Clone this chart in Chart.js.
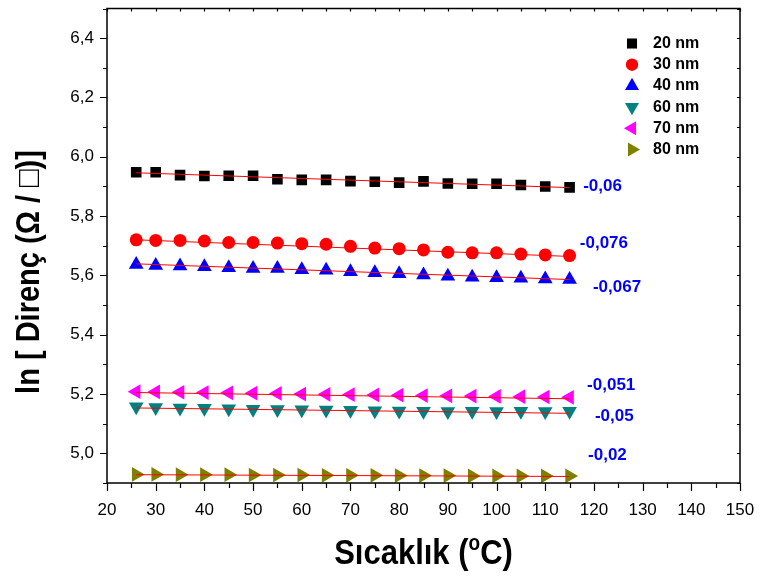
<!DOCTYPE html>
<html>
<head>
<meta charset="utf-8">
<script src="https://cdn.jsdelivr.net/npm/chart.js@4/dist/chart.umd.min.js"></script>
<style>
  html, body { margin: 0; padding: 0; background: #fff; }
  canvas { display: block; }
</style>
</head>
<body>
<canvas id="chart" width="760" height="577"></canvas>
<script>
// temperatures (°C)
const temps = [26, 30, 35, 40, 45, 50, 55, 60, 65, 70, 75, 80, 85, 90, 95, 100, 105, 110, 115];

// ln(resistance) per film thickness
const r20 = [5.948, 5.948, 5.938, 5.935, 5.936, 5.936, 5.924, 5.922, 5.922, 5.918, 5.916, 5.913, 5.917, 5.910, 5.909, 5.909, 5.905, 5.900, 5.897];
const r30 = [5.720, 5.718, 5.718, 5.716, 5.711, 5.711, 5.709, 5.707, 5.705, 5.698, 5.692, 5.690, 5.686, 5.678, 5.676, 5.676, 5.672, 5.669, 5.667];
const r40 = [5.637, 5.633, 5.632, 5.629, 5.626, 5.623, 5.623, 5.619, 5.617, 5.612, 5.609, 5.606, 5.601, 5.597, 5.594, 5.592, 5.590, 5.588, 5.586];
const r60 = [5.157, 5.155, 5.153, 5.152, 5.150, 5.149, 5.148, 5.147, 5.146, 5.145, 5.144, 5.143, 5.142, 5.141, 5.142, 5.141, 5.142, 5.141, 5.142];
const r70 = [5.208, 5.207, 5.206, 5.205, 5.204, 5.203, 5.202, 5.200, 5.199, 5.198, 5.197, 5.196, 5.195, 5.194, 5.193, 5.192, 5.191, 5.190, 5.189];
const r80 = [4.929, 4.929, 4.928, 4.928, 4.928, 4.927, 4.927, 4.927, 4.926, 4.926, 4.926, 4.925, 4.925, 4.925, 4.924, 4.924, 4.924, 4.924, 4.924];

// linear fit end values (at 26 and 115 °C)
const fitStart = [5.946, 5.720, 5.639, 5.153, 5.205, 4.928];
const fitEnd   = [5.896, 5.664, 5.586, 5.135, 5.184, 4.922];

const seriesNames = ['20 nm', '30 nm', '40 nm', '60 nm', '70 nm', '80 nm'];
const slopeLabels = ['-0,06', '-0,076', '-0,067', '-0,05', '-0,051', '-0,02'];
const xTitle = ['Sıcaklık (', 'o', 'C)'];
const yTitle = 'ln [ Direnç (Ω / □)]';

// styling
const FONT = 'Arial, "Liberation Sans", sans-serif';
const colors = ['#000000', '#ff0000', '#0000ff', '#008080', '#ff00ff', '#808000'];
const styles = [
  { pointStyle: 'rect', rotation: 0, radius: 7.5 },
  { pointStyle: 'circle', rotation: 0, radius: 6.5 },
  { pointStyle: 'triangle', rotation: 0, radius: 8.5 },
  { pointStyle: 'triangle', rotation: 180, radius: 8.5 },
  { pointStyle: 'triangle', rotation: -90, radius: 8.5 },
  { pointStyle: 'triangle', rotation: 90, radius: 8.5 }
];
// where the slope texts sit (data units, left edge / middle)
const slopePos = [[117.8, 5.901], [117.1, 5.707], [119.8, 5.559], [120.2, 5.124], [118.6, 5.228], [118.8, 4.994]];

const allSeries = [r20, r30, r40, r60, r70, r80];

const datasets = [];
allSeries.forEach((vals, i) => {
  datasets.push({
    type: 'line',
    label: 'fit ' + seriesNames[i],
    data: [{ x: temps[0], y: fitStart[i] }, { x: temps[temps.length - 1], y: fitEnd[i] }],
    borderColor: '#ff0000',
    borderWidth: 1,
    pointRadius: 0,
    fill: false,
    order: 0
  });
});
allSeries.forEach((vals, i) => {
  datasets.push({
    type: 'scatter',
    label: seriesNames[i],
    data: temps.map((t, k) => ({ x: t, y: vals[k] })),
    backgroundColor: colors[i],
    borderColor: colors[i],
    borderWidth: 0,
    pointStyle: styles[i].pointStyle,
    rotation: styles[i].rotation,
    pointRadius: styles[i].radius,
    pointHoverRadius: styles[i].radius,
    order: 1
  });
});

function drawMarker(ctx, st, color, x, y) {
  ctx.save();
  ctx.fillStyle = color;
  ctx.strokeStyle = color;
  if (Chart.helpers && Chart.helpers.drawPoint) {
    Chart.helpers.drawPoint(ctx, { pointStyle: st.pointStyle, rotation: st.rotation, radius: st.radius, borderWidth: 0 }, x, y);
  }
  ctx.restore();
}

const framePlugin = {
  id: 'frame',
  afterDraw(c) {
    const ctx = c.ctx;
    const a = c.chartArea;
    const xs = c.scales.x, ys = c.scales.y;
    ctx.save();
    ctx.strokeStyle = '#000';
    ctx.lineWidth = 1.5;
    ctx.strokeRect(a.left, a.top, a.right - a.left, a.bottom - a.top);
    ctx.lineWidth = 1.2;
    ctx.beginPath();
    for (let v = 20; v <= 150; v += 5) {
      const px = Math.round(xs.getPixelForValue(v)) + 0.5;
      const major = v % 10 === 0;
      ctx.moveTo(px, a.bottom);
      ctx.lineTo(px, a.bottom + (major ? 8 : 5));
      ctx.moveTo(px, a.top);
      ctx.lineTo(px, a.top + 3);
    }
    for (let k = 49; k <= 65; k++) {
      const py = Math.round(ys.getPixelForValue(k / 10)) + 0.5;
      const major = k % 2 === 0;
      ctx.moveTo(a.left, py);
      ctx.lineTo(a.left - (major ? 7 : 4), py);
      ctx.moveTo(a.right, py);
      ctx.lineTo(a.right - 3, py);
    }
    ctx.stroke();

    // legend
    ctx.font = 'bold 16px ' + FONT;
    ctx.textBaseline = 'middle';
    ctx.fillStyle = '#000';
    seriesNames.forEach((name, i) => {
      const y = a.top + 35 + i * 21.2;
      drawMarker(ctx, { ...styles[i], radius: styles[i].radius * 0.95 }, colors[i], a.right - 108, y);
      ctx.fillStyle = '#000';
      ctx.fillText(name, a.right - 87, y);
    });

    // slope labels
    ctx.font = 'bold 17px ' + FONT;
    ctx.fillStyle = '#0000ff';
    ctx.textAlign = 'left';
    slopeLabels.forEach((t, i) => {
      ctx.fillText(t, xs.getPixelForValue(slopePos[i][0]), ys.getPixelForValue(slopePos[i][1]));
    });

    // axis titles (slightly tall glyphs as in the original)
    ctx.fillStyle = '#000';
    ctx.textBaseline = 'alphabetic';
    ctx.save();
    ctx.translate((a.left + a.right) / 2, 564);
    ctx.scale(1, 1.16);
    ctx.font = 'bold 31px ' + FONT;
    const w0 = ctx.measureText(xTitle[0]).width;
    ctx.font = 'bold 19px ' + FONT;
    const w1 = ctx.measureText(xTitle[1]).width;
    ctx.font = 'bold 31px ' + FONT;
    const w2 = ctx.measureText(xTitle[2]).width;
    let x0 = -(w0 + w1 + w2) / 2;
    ctx.fillText(xTitle[0], x0, 0);
    ctx.font = 'bold 19px ' + FONT;
    ctx.fillText(xTitle[1], x0 + w0, -12);
    ctx.font = 'bold 31px ' + FONT;
    ctx.fillText(xTitle[2], x0 + w0 + w1, 0);
    ctx.restore();

    ctx.save();
    ctx.translate(39, 272);
    ctx.rotate(-Math.PI / 2);
    ctx.scale(1, 1.15);
    ctx.font = 'bold 29px ' + FONT;
    ctx.textAlign = 'center';
    ctx.fillText(yTitle, 0, 0);
    ctx.restore();

    ctx.restore();
  }
};

new Chart(document.getElementById('chart').getContext('2d'), {
  type: 'scatter',
  data: { datasets: datasets },
  options: {
    responsive: false,
    animation: false,
    devicePixelRatio: 1,
    layout: { padding: { top: 5, right: 20, left: 0, bottom: 0 } },
    plugins: {
      legend: { display: false },
      tooltip: { enabled: false }
    },
    scales: {
      x: {
        type: 'linear',
        min: 20,
        max: 150,
        afterFit: s => { s.height = 94; s.paddingLeft = 0; s.paddingRight = 0; },
        border: { display: false },
        grid: { display: false, drawTicks: false },
        ticks: {
          stepSize: 10,
          padding: 17,
          color: '#000',
          font: { family: FONT, size: 17 }
        },
        title: { display: false, text: xTitle.join('') }
      },
      y: {
        type: 'linear',
        min: 4.9,
        max: 6.5,
        afterFit: s => { s.width = 107; s.paddingTop = 0; s.paddingBottom = 0; },
        border: { display: false },
        grid: { display: false, drawTicks: false },
        ticks: {
          stepSize: 0.1,
          padding: 13,
          color: '#000',
          font: { family: FONT, size: 17 },
          callback: v => {
            const k = Math.round(v * 10);
            if (k % 2 !== 0 || k < 50 || k > 64) return '';
            return (k / 10).toFixed(1).replace('.', ',');
          }
        },
        title: { display: false, text: yTitle }
      }
    }
  },
  plugins: [framePlugin]
});
</script>
</body>
</html>
